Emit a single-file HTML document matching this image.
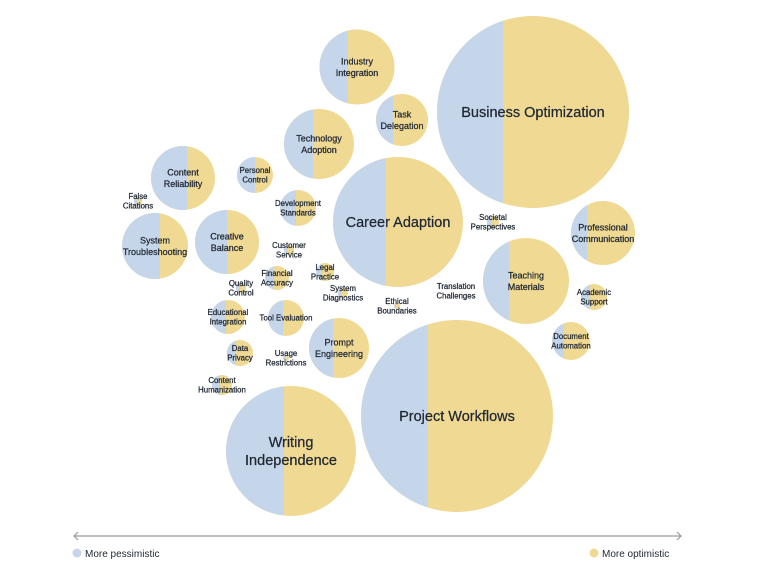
<!DOCTYPE html>
<html><head><meta charset="utf-8"><style>
html,body{margin:0;padding:0;background:#fff;width:780px;height:585px;overflow:hidden}
svg{display:block}
text{font-family:"Liberation Sans",sans-serif;fill:#1f2733;text-anchor:middle}
#t text{stroke:#1f2733;stroke-width:0.25}
</style></head><body>
<svg id="s" width="780" height="585" xmlns="http://www.w3.org/2000/svg">
<defs></defs>
<g id="c"></g>
<line x1="74" y1="536" x2="681" y2="536" stroke="#9a9a9a" stroke-width="1.2"/>
<polyline points="78,532 74,536 78,540" fill="none" stroke="#9a9a9a" stroke-width="1.2"/>
<polyline points="677,532 681,536 677,540" fill="none" stroke="#9a9a9a" stroke-width="1.2"/>
<circle cx="77" cy="553" r="4.5" fill="#c5d6ea"/>
<text x="85" y="557" style="text-anchor:start;font-size:10px">More pessimistic</text>
<circle cx="594" cy="553" r="4.5" fill="#f0d993"/>
<text x="602" y="557" style="text-anchor:start;font-size:10px">More optimistic</text>
<g id="t"></g>
</svg>
<script>
var B="#c5d6ea",Y="#f0d993";
var L=14.5,M=9,S=7.8;
var d=[
[533,112,96,503,["Business Optimization"],L],
[357,67,37.5,348,["Industry","Integration"],M],
[402,120,26,393,["Task","Delegation"],M],
[319,144,35,313,["Technology","Adoption"],M],
[183,178,32,187,["Content","Reliability"],M],
[255,175,18,255,["Personal","Control"],S],
[298,208,18,296,["Development","Standards"],S],
[398,222,65,386,["Career Adaption"],L],
[603,233,32,587,["Professional","Communication"],M],
[155,246,33,160,["System","Troubleshooting"],M],
[227,242,32,227,["Creative","Balance"],M],
[526,281,43,509,["Teaching","Materials"],M],
[594,297,13,590,["Academic","Support"],S],
[277,278,12,274,["Financial","Accuracy"],S],
[325,272,9,322,["Legal","Practice"],S],
[241,288,5,240,["Quality","Control"],S],
[343,293,5,342,["System","Diagnostics"],S],
[289,250,5,288,["Customer","Service"],S],
[286,318,18,283,["Tool Evaluation"],S],
[228,317,17,226,["Educational","Integration"],S],
[339,348,30,333,["Prompt","Engineering"],M],
[571,341,19,564,["Document","Automation"],S],
[240,353,13,236,["Data","Privacy"],S],
[222,385,10,220,["Content","Humanization"],S],
[291,451,65,284,["Writing","Independence"],L],
[457,416,96,428,["Project Workflows"],L],
[493,222,6,492,["Societal","Perspectives"],S],
[138,201,4,137,["False","Citations"],S],
[456,291,0,0,["Translation","Challenges"],S],
[397,306,3,396,["Ethical","Boundaries"],S],
[286,358,3,285,["Usage","Restrictions"],S]
];
var ns="http://www.w3.org/2000/svg",g=document.getElementById("c"),t=document.getElementById("t"),defs=document.querySelector("defs");
function el(n,a,p){var e=document.createElementNS(ns,n);for(var k in a)e.setAttribute(k,a[k]);p.appendChild(e);return e;}
d.forEach(function(o,i){
 if(o[2]>0){
 var cp=el("clipPath",{id:"k"+i},defs);el("circle",{cx:o[0],cy:o[1],r:o[2]},cp);
 el("circle",{cx:o[0],cy:o[1],r:o[2],fill:Y},g);
 el("rect",{x:o[0]-o[2],y:o[1]-o[2],width:o[3]-(o[0]-o[2]),height:2*o[2],fill:B,"clip-path":"url(#k"+i+")"},g);
 }
 var fs=o[5],lh=fs*1.25,n=o[4].length,y0=o[1]-(n-1)*lh/2+fs*0.35;
 o[4].forEach(function(s,j){var x=el("text",{x:o[0],y:y0+j*lh,"font-size":fs},t);x.textContent=s;});
});
</script>
</body></html>
